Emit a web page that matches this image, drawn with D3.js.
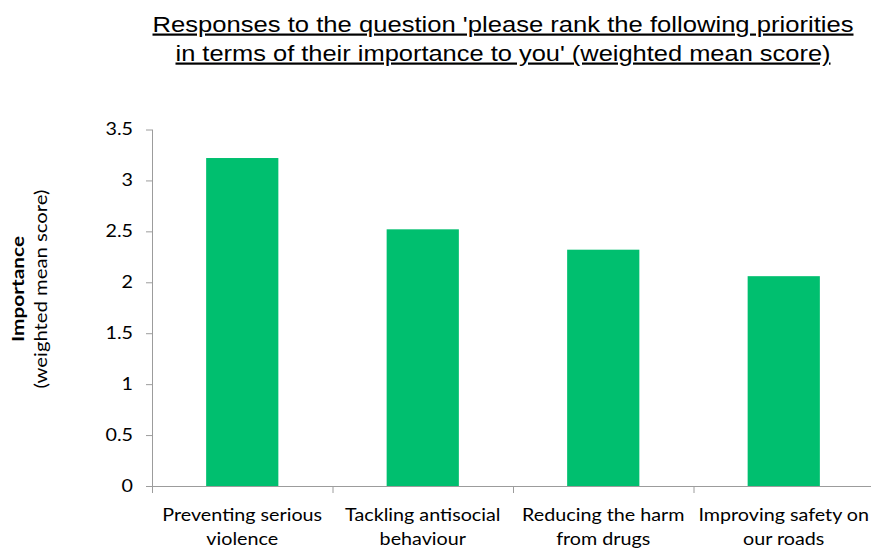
<!DOCTYPE html>
<html><head><meta charset="utf-8">
<script src="https://cdn.jsdelivr.net/npm/d3@7"></script>
<style>
html,body{margin:0;padding:0;background:#fff;}
svg{display:block;}
</style></head>
<body>
<svg id="chart" width="871" height="548"></svg>
<script>
const categories = [
  ["Preventing serious", "violence"],
  ["Tackling antisocial", "behaviour"],
  ["Reducing the harm", "from drugs"],
  ["Improving safety on", "our roads"]
];
const values = [3.22, 2.52, 2.32, 2.06];
const yTicks = [0, 0.5, 1, 1.5, 2, 2.5, 3, 3.5];
const titleLines = [
  "Responses to the question 'please rank the following priorities",
  "in terms of their importance to you' (weighted mean score)"
];
const yTitle = ["Importance", "(weighted mean score)"];

(function () {
const svg = d3.select("#chart");
const mLeft = 152, mRight = 874, mTop = 129.5, mBottom = 486;
const labelFont = "Lato, 'Open Sans', sans-serif";
const axisColor = "#9c9c9c";
const sx = 1.16; // horizontal stretch of the reference's lettering

const x = d3.scaleBand().domain(d3.range(categories.length)).range([mLeft, mRight]).paddingInner(0.6).paddingOuter(0.3);
const xb = d3.scaleBand().domain(d3.range(categories.length)).range([mLeft, mRight]);
const y = d3.scaleLinear().domain([0, 3.5]).range([mBottom, mTop]);

// Title
const titleLen = [701, 655];
const titleY = [31.5, 60.5];
titleLines.forEach((t, i) => {
  svg.append("text")
    .attr("x", 503).attr("y", titleY[i])
    .attr("text-anchor", "middle")
    .attr("font-family", "'Liberation Sans', Arial, sans-serif")
    .attr("font-size", 22)
    .attr("textLength", titleLen[i])
    .attr("lengthAdjust", "spacingAndGlyphs")
    .attr("text-decoration", "underline")
    .attr("fill", "#000")
    .text(t);
});

// Bars
svg.append("g").selectAll("rect").data(values).join("rect")
  .attr("x", (d, i) => x(i))
  .attr("width", x.bandwidth())
  .attr("y", d => y(d))
  .attr("height", d => y(0) - y(d))
  .attr("fill", "#00bf6f");

// Y axis
const yAxis = svg.append("g").attr("transform", `translate(${mLeft},0)`)
  .call(d3.axisLeft(y).tickValues(yTicks).tickSize(6).tickFormat(d3.format("")));
yAxis.select(".domain").attr("stroke", axisColor).attr("d", `M0.5,${mTop}V${mBottom}`);
yAxis.selectAll(".tick line").attr("stroke", axisColor);
yAxis.selectAll(".tick text")
  .attr("x", -19 / sx)
  .attr("transform", `scale(${sx},1)`)
  .attr("font-family", labelFont).attr("font-size", 17).attr("fill", "#000");

// X axis
const xAxis = svg.append("g").attr("transform", `translate(0,${mBottom})`);
xAxis.append("line").attr("x1", mLeft).attr("x2", mRight).attr("y1", 0.5).attr("y2", 0.5).attr("stroke", axisColor);
xAxis.selectAll("line.tk").data(d3.range(categories.length + 1)).join("line")
  .attr("class", "tk")
  .attr("x1", i => mLeft + 0.5 + i * xb.step()).attr("x2", i => mLeft + 0.5 + i * xb.step())
  .attr("y1", 0).attr("y2", 7).attr("stroke", axisColor);
categories.forEach((lines, i) => {
  const cx = xb(i) + xb.bandwidth() / 2;
  lines.forEach((t, j) => {
    xAxis.append("text")
      .attr("transform", `translate(${cx},${34.5 + j * 24.5}) scale(${sx},1)`)
      .attr("text-anchor", "middle")
      .attr("font-family", labelFont)
      .attr("font-size", 17)
      .attr("fill", "#000")
      .text(t);
  });
});

// Y title
const yt = svg.append("g").attr("transform", "translate(0,289) rotate(-90)");
yt.append("text").attr("x", 0).attr("y", 24).attr("text-anchor", "middle")
  .attr("font-family", labelFont).attr("font-size", 17).attr("font-weight", "bold")
  .attr("textLength", 106).attr("lengthAdjust", "spacingAndGlyphs").text(yTitle[0]);
yt.append("text").attr("x", 0).attr("y", 47).attr("text-anchor", "middle")
  .attr("font-family", labelFont).attr("font-size", 17)
  .attr("textLength", 199).attr("lengthAdjust", "spacingAndGlyphs").text(yTitle[1]);
})();
</script>
</body></html>
